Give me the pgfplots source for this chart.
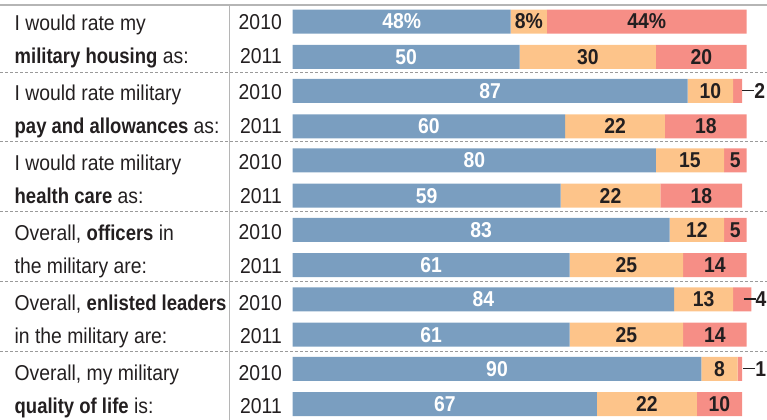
\documentclass[border=0pt]{standalone}
\usepackage{pgfplots}
\pgfplotsset{compat=1.18}
\usepackage{pgfplotstable}
\usepackage{fontspec}
\setmainfont{Liberation Sans}[UprightFeatures={FakeStretch=0.9}, BoldFeatures={FakeStretch=0.86}]
\newfontfamily\labfamily{Liberation Sans}[FakeStretch=0.9]
\newcommand{\lab}{\labfamily\bfseries\fontsize{21.5bp}{24bp}\selectfont}
\definecolor{cblue}{HTML}{7A9EC0}
\definecolor{corange}{HTML}{FDC48A}
\definecolor{cred}{HTML}{F68E86}
\definecolor{ctext}{HTML}{231F20}
\definecolor{cline}{HTML}{B5B5B5}
\definecolor{cdash}{HTML}{9A9A9A}

% y = vertical position of the bar (pixels from top); pos / neu / neg in percent
\pgfplotstableread{
y      pos neu neg
21.5   48  8   44
56.8   50  30  20
90.95  87  10  2
126.25 60  22  18
160.4  80  15  5
195.7  59  22  18
229.85 83  12  5
265.15 61  25  14
299.3  84  13  4
334.6  61  25  14
368.75 90  8   1
404.05 67  22  10
}\data

\pgfplotsset{base/.style={at={(0,0)}, anchor=south west, scale only axis,
  width=767bp, height=420bp, xmin=-64.47, xmax=104.47, ymin=0, ymax=420,
  y dir=reverse, hide axis, clip=false}}

\newcommand{\dline}[1]{\draw[cdash, line width=1bp, dash pattern=on 3bp off 2bp] (axis cs:-64.47,#1) -- (axis cs:104.47,#1);}
\newcommand{\yr}[2]{\node[anchor=base east, inner sep=0pt, text=ctext] at (axis cs:-2.36,#1) {#2};}
\newcommand{\qq}[2]{\node[anchor=base west, inner sep=0pt, text=ctext] at (axis cs:-61.28,#1) {#2};}

\begin{document}
\fontsize{21.5bp}{26bp}\selectfont
\begin{tikzpicture}
\begin{axis}[base, xbar stacked, bar width=24]
\addplot[fill=cblue, draw=none] table[x=pos, y=y]{\data};
\addplot[fill=corange, draw=none] table[x=neu, y=y]{\data};
\addplot[fill=cred, draw=none] table[x=neg, y=y]{\data};
\end{axis}
\begin{axis}[base]
% rules
\draw[cline, line width=2bp] (axis cs:-64.47,5) -- (axis cs:104.47,5);
\draw[cline, line width=1.8bp] (axis cs:-13.92,5) -- (axis cs:-13.92,420);
\dline{72}
\dline{141.9}
\dline{211.8}
\dline{281.7}
\dline{351.6}
% white labels
\addplot[draw=none, mark=none, nodes near coords, point meta=explicit symbolic,
  every node near coord/.append style={anchor=center, text=white, font=\lab, inner sep=0pt}]
  coordinates {(24,21.5)[48\%] (25,56.8)[50] (43.5,90.95)[87] (30,126.25)[60]
  (40,160.4)[80] (29.5,195.7)[59] (41.5,229.85)[83] (30.5,265.15)[61]
  (42,299.3)[84] (30.5,334.6)[61] (45,368.75)[90] (33.5,404.05)[67]};
% dark labels
\addplot[draw=none, mark=none, nodes near coords, point meta=explicit symbolic,
  every node near coord/.append style={anchor=center, text=ctext, font=\lab, inner sep=0pt}]
  coordinates {(52,21.5)[8\%] (78,21.5)[44\%] (65,56.8)[30] (90,56.8)[20]
  (92,90.95)[10] (71,126.25)[22] (91,126.25)[18]
  (87.5,160.4)[15] (97.5,160.4)[5] (70,195.7)[22] (90,195.7)[18]
  (89,229.85)[12] (97.5,229.85)[5] (73.5,265.15)[25] (93,265.15)[14]
  (90.5,299.3)[13] (73.5,334.6)[25] (93,334.6)[14]
  (94,368.75)[8] (78,404.05)[22] (94,404.05)[10]};
% outside labels for small values
\addplot[draw=none, mark=none, nodes near coords={\rule[7bp]{12bp}{1.3bp}\pgfplotspointmeta}, point meta=explicit symbolic,
  every node near coord/.append style={anchor=west, text=ctext, font=\lab, inner sep=0pt}]
  coordinates {(99.0,90.95)[2] (99.3,299.3)[4] (99.2,368.75)[1]};
% years
\yr{29.3}{2010}
\yr{63.3}{2011}
\yr{99.5}{2010}
\yr{133.4}{2011}
\yr{169.7}{2010}
\yr{203.5}{2011}
\yr{239.9}{2010}
\yr{273.6}{2011}
\yr{310.1}{2010}
\yr{343.7}{2011}
\yr{380.3}{2010}
\yr{413.6}{2011}
% questions
\qq{30.7}{I would rate my}
\qq{63.7}{\textbf{military housing} as:}
\qq{100.6}{I would rate military}
\qq{133.6}{\textbf{pay and allowances} as:}
\qq{170.5}{I would rate military}
\qq{203.5}{\textbf{health care} as:}
\qq{240.4}{Overall, \textbf{officers} in}
\qq{273.4}{the military are:}
\qq{310.3}{Overall, \textbf{enlisted leaders}}
\qq{343.3}{in the military are:}
\qq{380.2}{Overall, my military}
\qq{413.2}{\textbf{quality of life} is:}
\end{axis}
\pgfresetboundingbox
\path[use as bounding box] (0,0) rectangle (767bp,420bp);
\end{tikzpicture}
\end{document}
